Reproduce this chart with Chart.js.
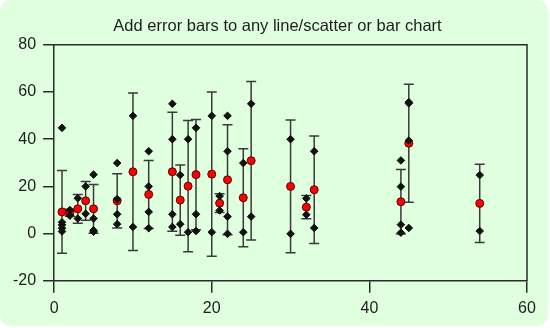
<!DOCTYPE html>
<html>
<head>
<meta charset="utf-8">
<title>Error bars</title>
<script src="https://cdn.jsdelivr.net/npm/chart.js@4"></script>
<style>
  html, body { margin: 0; padding: 0; background: #fff; }
  #panel {
    position: absolute; left: 0; top: 0;
    width: 548px; height: 326px;
    background: #dfffdf;
    border-radius: 11px;
  }
  #chart { position: absolute; left: 0; top: 0; }
</style>
</head>
<body>
<div id="panel"></div>
<canvas id="chart" width="550" height="328"></canvas>
<script>
// group positions, means and +/- error for each group
const groupX = [1, 2, 3, 4, 5, 8, 10, 12, 15, 16, 17, 18, 20, 21, 22, 24, 25, 30, 32, 33, 44, 45, 54];
const groupMean = [9.2, 8.8, 10.5, 13.9, 10.5, 13.9, 26.2, 16.6, 26.2, 14.2, 20.1, 25.0, 25.2, 12.9, 22.8, 15.2, 30.9, 20.0, 11.2, 18.6, 13.5, 38.3, 12.8];
const groupErr = [17.5, 1.5, 6.1, 8.2, 10.3, 11.5, 33.4, 14.4, 25.2, 14.9, 27.8, 23.4, 34.8, 4.0, 23.3, 20.8, 33.6, 28.1, 4.9, 22.8, 13.7, 25.0, 16.6];

// individual observations
const rawX = [
  1, 1, 1, 1, 1,
  2, 2,
  3, 3,
  4, 4,
  5, 5, 5, 5,
  8, 8, 8, 8,
  10, 10,
  12, 12, 12, 12,
  15, 15, 15, 15,
  16, 16,
  17, 17,
  18, 18, 18,
  20, 20,
  21, 21,
  22, 22, 22, 22,
  24, 24,
  25, 25,
  30, 30,
  32, 32,
  33, 33,
  44, 44, 44, 44,
  45, 45, 45, 45,
  54, 54
];
const rawY = [
  44.8, 4.8, 3.7, 2.3, 0.9,
  10.0, 7.6,
  15.0, 6.4,
  20.0, 8.4,
  25.0, 6.4, 1.4, 0.8,
  29.9, 14.6, 8.2, 4.0,
  49.9, 2.8,
  34.9, 20.0, 9.2, 2.3,
  55.0, 40.0, 8.2, 2.8,
  24.8, 4.0,
  40.0, 0.6,
  44.8, 8.2, 1.1,
  49.9, 0.6,
  15.9, 9.8,
  49.9, 34.9, 7.2, -0.1,
  29.9, 0.6,
  55.0, 7.2,
  40.0, -0.1,
  14.9, 8.0,
  34.9, 2.4,
  31.0, 19.9, 3.8, 0.4,
  55.7, 55.2, 39.4, 2.4,
  24.8, 1.1
];

const xTicks = [0, 20, 40, 60];
const yTicks = [-20, 0, 20, 40, 60, 80];

const axisColor = '#2b2b2b';
const textColor = '#1e1e1e';
const fontFamily = '"Liberation Sans", Arial, sans-serif';

// vertical error bars with caps, drawn under the markers
const errorBars = {
  id: 'errorBars',
  beforeDatasetsDraw(chart) {
    const { ctx, scales: { x, y } } = chart;
    const cap = 5;
    ctx.save();
    ctx.strokeStyle = '#3a3a3a';
    ctx.lineWidth = 1.5;
    groupX.forEach((gx, i) => {
      const px = x.getPixelForValue(gx);
      const top = y.getPixelForValue(groupMean[i] + groupErr[i]);
      const bot = y.getPixelForValue(groupMean[i] - groupErr[i]);
      ctx.beginPath();
      ctx.moveTo(px, top);
      ctx.lineTo(px, bot);
      ctx.moveTo(px - cap, top);
      ctx.lineTo(px + cap, top);
      ctx.moveTo(px - cap, bot);
      ctx.lineTo(px + cap, bot);
      ctx.stroke();
    });
    ctx.restore();
  }
};

// top and right edges of the plot frame
const frame = {
  id: 'frame',
  afterDraw(chart) {
    const { ctx, chartArea: a } = chart;
    ctx.save();
    ctx.strokeStyle = axisColor;
    ctx.lineWidth = 1.5;
    ctx.beginPath();
    ctx.moveTo(a.left, a.top);
    ctx.lineTo(a.right, a.top);
    ctx.lineTo(a.right, a.bottom);
    ctx.stroke();
    ctx.restore();
  }
};

// nudge the title a little right of the padded box centre
const titleShift = {
  id: 'titleShift',
  afterLayout(chart) {
    const t = chart.titleBlock;
    if (t) { t.left += 11; t.right += 11; }
  }
};

new Chart(document.getElementById('chart'), {
  type: 'scatter',
  data: {
    datasets: [
      {
        label: 'observations',
        data: rawX.map((v, i) => ({ x: v, y: rawY[i] })),
        pointStyle: 'rectRot',
        pointRadius: 3.8,
        backgroundColor: '#111',
        borderColor: '#111',
        borderWidth: 1
      },
      {
        label: 'mean',
        data: groupX.map((v, i) => ({ x: v, y: groupMean[i] })),
        pointStyle: 'circle',
        pointRadius: 4,
        backgroundColor: '#ff0000',
        borderColor: '#5a0000',
        borderWidth: 1
      }
    ]
  },
  options: {
    responsive: false,
    animation: false,
    layout: { padding: { left: 6, right: 23, top: 0, bottom: 4 } },
    plugins: {
      legend: { display: false },
      tooltip: { enabled: false },
      title: {
        display: true,
        text: 'Add error bars to any line/scatter or bar chart',
        color: textColor,
        font: { family: fontFamily, size: 16.5, weight: 'normal' },
        padding: { top: 17, bottom: 8 }
      }
    },
    scales: {
      x: {
        type: 'linear',
        min: 0,
        max: 60,
        afterBuildTicks: (axis) => { axis.ticks = xTicks.map(v => ({ value: v })); },
        grid: { drawOnChartArea: false, drawTicks: true, tickLength: 12, color: axisColor, lineWidth: 1.5 },
        border: { display: true, color: axisColor, width: 1.5 },
        ticks: { color: textColor, padding: 6, font: { family: fontFamily, size: 16 } }
      },
      y: {
        type: 'linear',
        min: -20,
        max: 80,
        afterBuildTicks: (axis) => { axis.ticks = yTicks.map(v => ({ value: v })); },
        grid: { drawOnChartArea: false, drawTicks: true, tickLength: 11, color: axisColor, lineWidth: 1.5 },
        border: { display: true, color: axisColor, width: 1.5 },
        ticks: { color: textColor, padding: 7, font: { family: fontFamily, size: 16 } }
      }
    }
  },
  plugins: [errorBars, frame, titleShift]
});
</script>
</body>
</html>
